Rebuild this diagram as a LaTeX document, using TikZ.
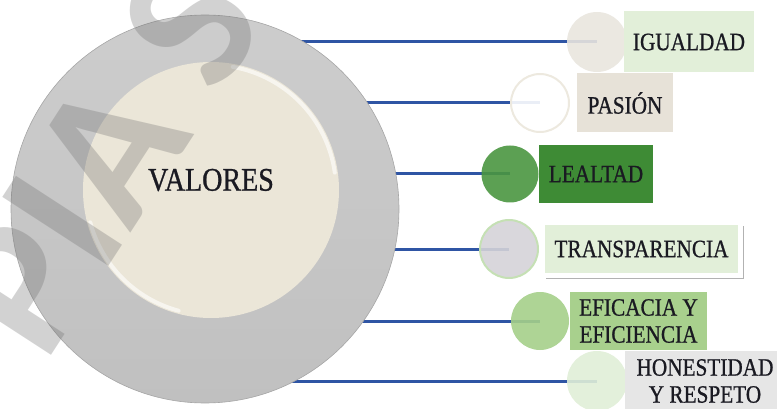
\documentclass[tikz,border=0pt]{standalone}
\usepackage{fontspec}
\setmainfont{Liberation Serif}[FakeStretch=0.85, FakeBold=0.8]
\newfontfamily\stampfont{Carlito}
\usetikzlibrary{backgrounds,shadows}
\definecolor{ringtop}{HTML}{CDCDCD}
\definecolor{ringbot}{HTML}{C0C0C0}
\definecolor{cream}{HTML}{EBE6D8}
\definecolor{linkblue}{HTML}{2F55A4}
\definecolor{textdark}{HTML}{1A1A22}
\definecolor{stampgray}{gray}{0.43}
\definecolor{igualcirc}{HTML}{E9E5DE}
\definecolor{igualbox}{HTML}{E2EFD9}
\definecolor{pasionring}{HTML}{EDE9DF}
\definecolor{pasionbox}{HTML}{E7E2D8}
\definecolor{lealcirc}{HTML}{4A9640}
\definecolor{lealbox}{HTML}{3E8B35}
\definecolor{transcirc}{HTML}{D5D3D8}
\definecolor{transring}{HTML}{C5E0B4}
\definecolor{transbox}{HTML}{E2EFD9}
\definecolor{eficirc}{HTML}{A5CF89}
\definecolor{efibox}{HTML}{A8D08D}
\definecolor{honcirc}{HTML}{E0EED7}
\definecolor{honbox}{HTML}{E6E6E6}

\begin{document}
\begin{tikzpicture}[x=1pt, y=-1pt,
    link/.style={draw=linkblue, line width=3pt},
    labelbox/.style={inner sep=0pt, align=center,
      font=\fontsize{25}{27}\selectfont, text=textdark},
    plainbox/.style={},
    framedbox/.style={draw=white, line width=5pt,
      drop shadow={shadow xshift=3pt, shadow yshift=-3pt, opacity=0.3, fill=black}}]
  \useasboundingbox (0,0) rectangle (777,409);

  % outer ring and core
  \node[circle, minimum size=388pt, top color=ringtop, bottom color=ringbot,
        draw=gray!70, line width=0.6pt] (ring) at (205,209) {};
  \node[circle, minimum size=256pt, fill=cream] (core) at (211,190) {};
  \draw[white, line width=4pt, opacity=0.6, line cap=round]
    (core.center) ++(-8:125) arc[start angle=-8, end angle=-80, radius=125];
  \draw[white, line width=4pt, opacity=0.6, line cap=round]
    (core.center) ++(-195:125) arc[start angle=-195, end angle=-255, radius=125];
  \node[font=\fontsize{33}{33}\selectfont, text=textdark] (valores) at (211,180) {VALORES};

  % values
  \foreach \ty/\cx/\crad/\cfill/\cdraw/\bx/\bw/\bh/\bfill/\bsty/\lbl [count=\i] in {
      42/597/30/igualcirc/none/689/130/61/igualbox/plainbox/IGUALDAD,
      103/540/29/white/pasionring/625/96/59/pasionbox/plainbox/PASIÓN,
      174/510/28.5/lealcirc/none/596/114/58/lealbox/plainbox/LEALTAD,
      249/509/29/transcirc/transring/641.5/198/53/transbox/framedbox/TRANSPARENCIA,
      321/540/29/eficirc/none/638.5/137/58/efibox/plainbox/{EFICACIA Y\\EFICIENCIA},
      381/597/30/honcirc/none/705/160/60/honbox/plainbox/{HONESTIDAD\\Y RESPETO}}{
    \node[circle, minimum size=2*\crad pt, fill=\cfill, fill opacity=0.9,
          draw=\cdraw, line width=2pt] (dot\i) at (\cx,\ty) {};
    \begin{scope}[on background layer]
      \draw[link] (dot\i.center -| ring.center) -- (dot\i.center);
    \end{scope}
    \node[labelbox, minimum width=\bw pt, minimum height=\bh pt,
          fill=\bfill, \bsty] (tag\i) at (\bx,\ty) {\lbl};
  }

  % watermark
  \begin{scope}
    \clip (0,0) rectangle (777,409);
    \node[rotate=57, inner sep=0pt, text=stampgray, text opacity=0.31,
          font=\stampfont\bfseries\fontsize{195}{195}\selectfont] (stamp) at (104,158) {PIA S};
  \end{scope}
\end{tikzpicture}
\end{document}
